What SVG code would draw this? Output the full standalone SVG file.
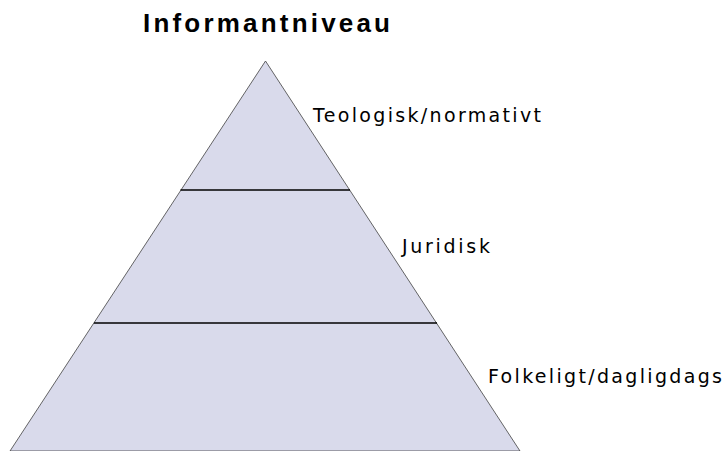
<svg xmlns="http://www.w3.org/2000/svg" width="725" height="451" viewBox="0 0 725 451">
<style>
.title{font-family:"Liberation Sans",Arial,sans-serif;font-weight:bold;font-size:26px;fill:#000}
.lbl{font-family:"DejaVu Sans","Liberation Sans",sans-serif;font-size:19px;fill:#000}
.tri{fill:#d9daeb;stroke:#404040;stroke-width:0.8}
.div{stroke:#000;stroke-width:1.5}
</style>
<rect width="725" height="451" fill="#fff"/>
<text class="title" x="143" y="32" textLength="247" lengthAdjust="spacing">Informantniveau</text>
<g id="pyramid">
<polygon class="tri" points="265.5,61 520,451 10,451"/>
</g>
<g id="connectors">
<line class="div" x1="180.5" y1="190" x2="350" y2="190"/>
<line class="div" x1="94" y1="323" x2="437" y2="323"/>
</g>
<g id="level1"><text class="lbl" x="313" y="122" textLength="228" lengthAdjust="spacing">Teologisk/normativt</text></g>
<g id="level2"><text class="lbl" x="402" y="253" textLength="88" lengthAdjust="spacing">Juridisk</text></g>
<g id="level3"><text class="lbl" x="488" y="383" textLength="234" lengthAdjust="spacing">Folkeligt/dagligdags</text></g>
</svg>
